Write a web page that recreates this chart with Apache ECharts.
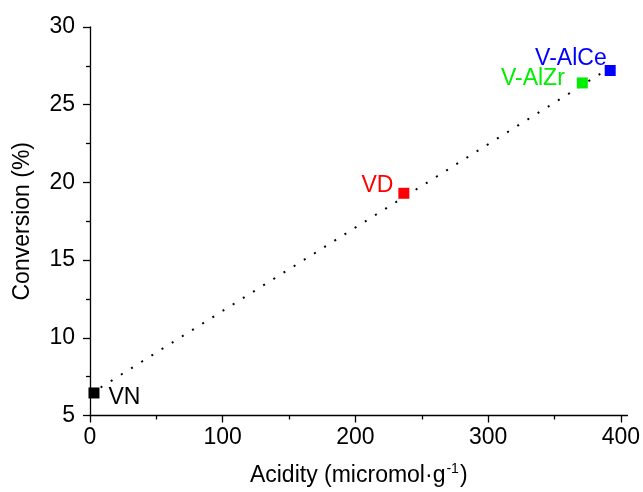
<!DOCTYPE html>
<html>
<head>
<meta charset="utf-8">
<script src="https://cdn.jsdelivr.net/npm/echarts@6/dist/echarts.min.js"></script>
<style>
  html, body { margin: 0; padding: 0; background: #fff; }
  #chart { width: 643px; height: 492px; }
</style>
</head>
<body>
<div id="chart"></div>
<script>
  // values
  const samples = ['VN', 'VD', 'V-AlZr', 'V-AlCe'];
  const acidity = [3, 236.5, 371, 392];
  const conversion = [6.45, 19.3, 26.4, 27.2];
  // dotted trend line, end points
  const fitAcidity = [8, 396];
  const fitConversion = [6.8, 27.6];
  const xTicks = [0, 100, 200, 300, 400];
  const xMinorTicks = [50, 150, 250, 350];

  const colors = { 'VN': '#000000', 'VD': '#ff0000', 'V-AlZr': '#00ee00', 'V-AlCe': '#0000ff' };
  const labelPos = {
    'VN': { position: 'right', distance: 9, offset: [0, 5] },
    'VD': { position: 'left', distance: 5, offset: [0, -8] },
    'V-AlZr': { position: 'left', distance: 12, offset: [0, -4] },
    'V-AlCe': { position: 'left', distance: -2, offset: [0, -12] }
  };

  const font = 'Liberation Sans, Arial, sans-serif';
  const chart = echarts.init(document.getElementById('chart'));

  const pointData = samples.map((name, i) => ({
    name: name,
    value: [acidity[i], conversion[i]],
    itemStyle: { color: colors[name], opacity: 1 },
    label: Object.assign({ show: true, formatter: '{b}', color: colors[name], fontSize: 23, fontFamily: font }, labelPos[name])
  }));

  const option = {
    animation: false,
    grid: { left: 90, right: 15, top: 27, bottom: 70 },
    xAxis: [{
      type: 'value',
      min: 0,
      max: 405,
      interval: 100,
      name: '{a|Acidity (micromol·g}{s|-1}{a|)}',
      nameLocation: 'middle',
      nameGap: 47,
      nameTextStyle: {
        rich: {
          a: { fontSize: 23, fontFamily: font, color: '#000' },
          s: { fontSize: 14, fontFamily: font, color: '#000', padding: [0, 1, 12, 1] }
        }
      },
      axisLine: { lineStyle: { color: '#000', width: 1.3 } },
      axisTick: { customValues: xTicks, length: 7, lineStyle: { color: '#000', width: 1.3 } },
      axisLabel: { customValues: xTicks, margin: 11, fontSize: 23, fontFamily: font, color: '#000' },
      splitLine: { show: false }
    }, {
      type: 'value',
      position: 'bottom',
      gridIndex: 0,
      min: 0,
      max: 405,
      axisLine: { show: false },
      axisTick: { customValues: xMinorTicks, length: 4, lineStyle: { color: '#000', width: 1.3 } },
      axisLabel: { show: false },
      splitLine: { show: false }
    }],
    yAxis: {
      type: 'value',
      min: 5,
      max: 30,
      interval: 5,
      name: 'Conversion (%)',
      nameLocation: 'middle',
      nameGap: 56,
      nameTextStyle: { fontSize: 23, fontFamily: font, color: '#000' },
      axisLine: { show: true, lineStyle: { color: '#000', width: 1.3 } },
      axisTick: { show: true, length: 7, lineStyle: { color: '#000', width: 1.3 } },
      minorTick: { show: true, splitNumber: 2, length: 4, lineStyle: { color: '#000', width: 1.3 } },
      axisLabel: { margin: 15, fontSize: 23, fontFamily: font, color: '#000' },
      splitLine: { show: false }
    },
    series: [{
      type: 'line',
      data: fitAcidity.map((x, i) => [x, fitConversion[i]]),
      symbol: 'none',
      lineStyle: { color: '#000', width: 2, type: [2, 10] },
      z: 1
    }, {
      type: 'scatter',
      symbol: 'rect',
      symbolSize: 11,
      data: pointData,
      z: 2
    }]
  };

  chart.setOption(option);
</script>
</body>
</html>
